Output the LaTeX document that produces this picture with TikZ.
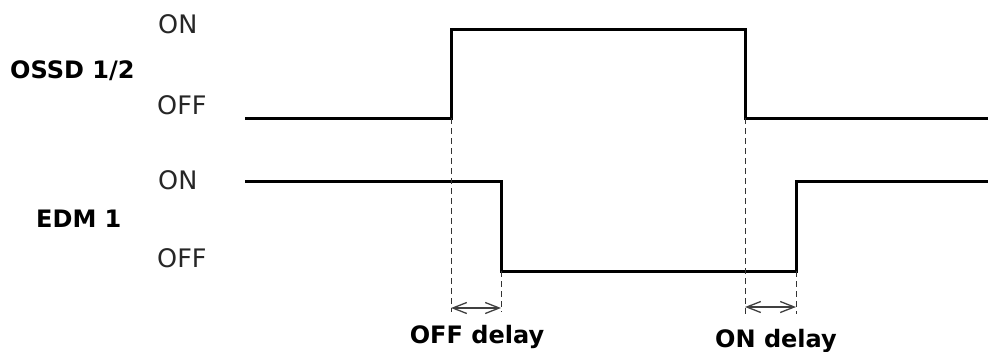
\documentclass[tikz,border=0pt]{standalone}
\usepackage{fontspec}
\setmainfont{DejaVu Sans}
\usetikzlibrary{arrows.meta}

\begin{document}
\begin{tikzpicture}[x=1pt,y=-1pt]
    \tikzset{SignalStyle/.style = {line width=3pt, line join=miter, color=black}}
    \tikzset{GuideStyle/.style = {line width=1pt, dash pattern=on 6pt off 4pt, color=black!80}}
    \tikzset{DelayStyle/.style = {line width=1.3pt, color=black!75, {Straight Barb[length=14pt,width=11pt]}-{Straight Barb[length=14pt,width=11pt]}}}
    \tikzset{LevelStyle/.style = {anchor=west, inner sep=0pt, font=\fontsize{25.5}{25.5}\selectfont, color=black!85}}
    \tikzset{NameStyle/.style = {anchor=west, inner sep=0pt, font=\fontsize{24}{24}\selectfont\bfseries}}
    \useasboundingbox (0,0) rectangle (993,351);

    % labels
    \node[LevelStyle] (ossdon)  at (158,24)  {ON};
    \node[NameStyle]  (ossd)    at (10,71)   {OSSD 1/2};
    \node[LevelStyle] (ossdoff) at (157,105) {OFF};
    \node[LevelStyle] (edmon)   at (158,180) {ON};
    \node[NameStyle]  (edm)     at (36,219)  {EDM 1};
    \node[LevelStyle] (edmoff)  at (157,258) {OFF};

    % OSSD 1/2
    \coordinate (O1) at (245,118);
    \coordinate (O2) at (451,118);
    \coordinate (O3) at (451,29);
    \coordinate (O4) at (745,29);
    \coordinate (O5) at (745,118);
    \coordinate (O6) at (988,118);
    \draw[SignalStyle] (O1) -- (O2) -- (O3) -- (O4) -- (O5) -- (O6);

    % EDM 1
    \coordinate (E1) at (245,181);
    \coordinate (E2) at (501,181);
    \coordinate (E3) at (501,271);
    \coordinate (E4) at (796,271);
    \coordinate (E5) at (796,181);
    \coordinate (E6) at (988,181);
    \draw[SignalStyle] (E1) -- (E2) -- (E3) -- (E4) -- (E5) -- (E6);

    % guides
    \coordinate (G1) at (451,312);
    \coordinate (G2) at (501,312);
    \coordinate (G3) at (745,314);
    \coordinate (G4) at (796,314);
    \draw[GuideStyle] (O2) -- (G1);
    \draw[GuideStyle] (E3) -- (G2);
    \draw[GuideStyle] (O5) -- (G3);
    \draw[GuideStyle] (E4) -- (G4);

    % delays
    \coordinate (D1) at (451,308);
    \coordinate (D2) at (501,308);
    \coordinate (D3) at (745,307);
    \coordinate (D4) at (796,307);
    \draw[DelayStyle] (D1) -- (D2);
    \draw[DelayStyle] (D3) -- (D4);
    \node[NameStyle, anchor=base] (offdelay) at (477,343) {OFF delay};
    \node[NameStyle, anchor=base] (ondelay)  at (776,347) {ON delay};
\end{tikzpicture}
\end{document}
